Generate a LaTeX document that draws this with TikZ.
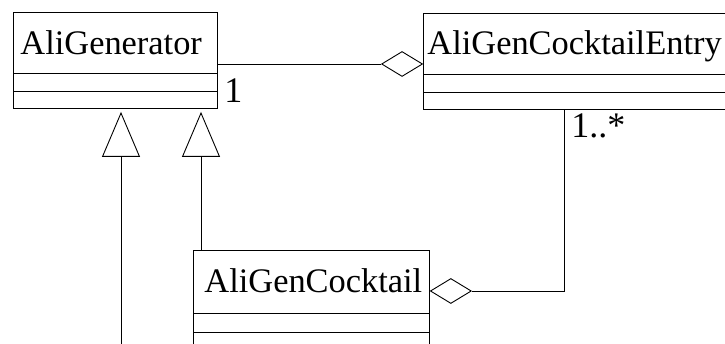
\documentclass[tikz,border=0pt]{standalone}
\usepackage{fontspec}
\setmainfont{Liberation Serif}
\usetikzlibrary{shapes.geometric,arrows.meta}
\tikzset{
  classbox/.style={draw, line width=0.9pt, anchor=north west, inner sep=0pt},
  classname/.style={anchor=base west, inner sep=0pt, font=\fontsize{34.4}{40}\selectfont},
  mult/.style={anchor=base west, inner sep=0pt, font=\fontsize{36}{40}\selectfont},
  aggr/.style={draw, diamond, aspect=1.64, fill=white, line width=0.9pt, minimum width=41pt, minimum height=25pt, inner sep=0pt},
  inherit/.style={line width=0.9pt, -{Triangle[open, length=45pt, width=38pt]}},
}
\begin{document}
\begin{tikzpicture}[x=1pt,y=-1pt,line width=0.9pt]
\useasboundingbox (0,0) rectangle (725,344);
\clip (0,0) rectangle (725,344);
% classes
\node[classbox, minimum width=204pt, minimum height=96pt] (genbox) at (13,12) {};
\node[classbox, minimum width=360pt, minimum height=96pt] (entrybox) at (423,13) {};
\node[classbox, minimum width=236pt, minimum height=130pt] (cocktailbox) at (193,250) {};
\node[classname] (gen) at (20,55) {AliGenerator};
\node[classname] (entry) at (427,55) {AliGenCocktailEntry};
\node[classname] (cocktail) at (204,293) {AliGenCocktail};
% compartments
\draw (genbox.west |- 0,73) -- (genbox.east |- 0,73);\draw (genbox.west |- 0,91) -- (genbox.east |- 0,91);
\draw (entrybox.west |- 0,74) -- (entrybox.east |- 0,74);\draw (entrybox.west |- 0,92) -- (entrybox.east |- 0,92);
\draw (cocktailbox.west |- 0,313) -- (cocktailbox.east |- 0,313);\draw (cocktailbox.west |- 0,332) -- (cocktailbox.east |- 0,332);
% aggregations
\node[aggr, anchor=east] (agg1) at (entrybox.west |- 0,64) {};
\node[aggr, anchor=west] (agg2) at (cocktailbox.east |- 0,291) {};
\draw (genbox.east |- agg1) -- (agg1.west);
\draw (agg2.east) -| (entrybox.south -| 564,0);
\node[mult] (one) at (224,103) {1};
\node[mult] (many) at (571,138) {1..*};
% generalisations
\coordinate (genfoot) at ([yshift=-3pt]genbox.south);
\coordinate (sub1) at (121,360);
\coordinate (sub2) at (201,0);
\draw[inherit] (sub1) -- (genfoot -| sub1);
\draw[inherit] (cocktailbox.north -| sub2) -- (genfoot -| sub2);
\end{tikzpicture}
\end{document}
